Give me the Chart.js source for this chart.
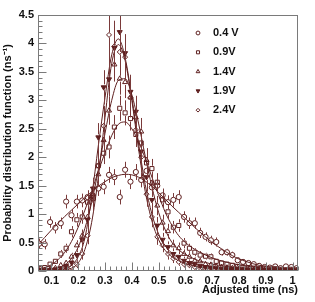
<!DOCTYPE html>
<html>
<head>
<meta charset="utf-8">
<script src="https://cdn.jsdelivr.net/npm/chart.js@4.4.0/dist/chart.umd.min.js"></script>
<style>
html, body { margin: 0; padding: 0; background: #fff; }
</style>
</head>
<body>
<canvas id="chart" width="315" height="302"></canvas>
<script>
// bin centres (ns)
var times = [0.055,0.075,0.095,0.115,0.135,0.155,0.175,0.195,0.215,0.235,0.255,0.275,0.295,0.315,0.335,0.355,0.375,0.395,0.415,0.435,0.455,0.475,0.495,0.515,0.535,0.555,0.575,0.595,0.615,0.635,0.655,0.675,0.695,0.715,0.735,0.755,0.775,0.795,0.815,0.835,0.855,0.875,0.895,0.915,0.935,0.955,0.975,0.995,1.015];

var seriesNames = ['0.4 V', '0.9V', '1.4V', '1.9V', '2.4V'];

var v04 = [0.48,0.47,0.86,0.76,0.84,1.22,0.98,1.22,1.24,1.30,1.28,1.45,1.48,1.69,1.65,1.30,1.78,1.57,1.74,1.60,1.76,1.47,1.50,1.33,1.21,1.25,1.30,0.95,0.84,0.84,0.67,0.60,0.54,0.51,0.33,0.33,0.28,0.19,0.16,0.14,0.12,0.09,0.07,0.06,0.08,0.05,0.08,0.07,0.05];
var v09 = [0.04,0.06,0.12,0.17,0.30,0.40,0.69,0.90,0.95,1.21,1.32,1.85,2.07,2.18,2.53,2.86,2.78,2.68,2.40,2.25,1.90,1.80,1.56,1.25,1.04,0.77,0.80,0.49,0.40,0.33,0.28,0.26,0.25,0.17,0.14,0.12,0.10,0.08,0.07,0.06,0.05,0.04,0.05,0.03,0.04,0.03,0.02,0.03,0.02];
var v14 = [0.01,0.02,0.03,0.05,0.10,0.14,0.25,0.45,0.62,0.95,1.35,1.70,2.30,2.82,3.63,3.38,3.32,3.05,2.70,2.45,1.95,1.55,1.15,0.85,0.70,0.45,0.40,0.30,0.25,0.18,0.17,0.12,0.11,0.08,0.07,0.06,0.05,0.05,0.03,0.03,0.02,0.03,0.02,0.01,0.02,0.01,0.01,0.01,0.01];
var v19 = [0.02,0.01,0.02,0.03,0.04,0.07,0.15,0.28,0.55,0.90,1.45,2.35,3.23,3.37,3.92,4.20,3.83,3.15,2.80,2.10,1.65,1.25,0.80,0.55,0.42,0.30,0.25,0.18,0.14,0.12,0.09,0.07,0.06,0.05,0.04,0.04,0.03,0.03,0.02,0.02,0.02,0.01,0.02,0.01,0.01,0.01,0.02,0.01,0.01];
var v24 = [0.00,0.01,0.01,0.01,0.02,0.03,0.06,0.12,0.30,0.62,1.25,1.85,2.55,4.15,3.95,3.85,3.76,3.05,2.48,2.00,1.35,0.95,0.60,0.45,0.30,0.22,0.16,0.12,0.10,0.07,0.05,0.04,0.04,0.03,0.03,0.02,0.02,0.02,0.01,0.02,0.01,0.01,0.01,0.01,0.01,0.00,0.01,0.01,0.00];

// statistical errors
var e04 = [0.09,0.09,0.10,0.10,0.10,0.12,0.11,0.12,0.12,0.12,0.12,0.13,0.13,0.14,0.14,0.13,0.14,0.13,0.14,0.13,0.14,0.13,0.13,0.12,0.12,0.12,0.12,0.10,0.10,0.10,0.09,0.08,0.08,0.08,0.06,0.06,0.06,0.05,0.04,0.04,0.04,0.03,0.03,0.03,0.03,0.03,0.03,0.03,0.03];
var e09 = [0.03,0.03,0.04,0.05,0.07,0.08,0.10,0.12,0.12,0.14,0.15,0.18,0.19,0.20,0.21,0.22,0.22,0.21,0.20,0.19,0.18,0.17,0.16,0.14,0.13,0.11,0.11,0.09,0.08,0.07,0.07,0.06,0.06,0.05,0.05,0.04,0.04,0.04,0.03,0.03,0.03,0.03,0.03,0.02,0.02,0.02,0.02,0.02,0.02];
var e14 = [0.02,0.02,0.03,0.03,0.04,0.05,0.07,0.09,0.11,0.14,0.17,0.19,0.22,0.25,0.30,0.28,0.28,0.26,0.25,0.24,0.21,0.19,0.17,0.14,0.13,0.10,0.10,0.08,0.07,0.06,0.06,0.05,0.05,0.04,0.04,0.04,0.03,0.03,0.03,0.03,0.02,0.02,0.02,0.02,0.02,0.02,0.02,0.02,0.02];
var e19 = [0.02,0.02,0.02,0.03,0.03,0.04,0.06,0.08,0.11,0.14,0.19,0.25,0.30,0.30,0.33,0.35,0.33,0.30,0.28,0.25,0.22,0.19,0.15,0.12,0.10,0.08,0.08,0.07,0.06,0.05,0.05,0.04,0.04,0.04,0.03,0.03,0.03,0.03,0.02,0.02,0.02,0.02,0.02,0.02,0.02,0.02,0.02,0.02,0.02];
var e24 = [0.01,0.02,0.02,0.02,0.03,0.03,0.05,0.07,0.10,0.15,0.22,0.28,0.35,0.50,0.45,0.40,0.40,0.35,0.30,0.27,0.22,0.18,0.14,0.12,0.10,0.08,0.07,0.06,0.05,0.05,0.04,0.04,0.04,0.03,0.03,0.03,0.03,0.02,0.02,0.02,0.02,0.02,0.02,0.02,0.02,0.01,0.02,0.02,0.01];

// fitted curves, read at these times
var fitTimes = [0.05,0.075,0.1,0.125,0.15,0.175,0.2,0.225,0.25,0.275,0.3,0.325,0.35,0.375,0.4,0.425,0.45,0.475,0.5,0.525,0.55,0.575,0.6,0.625,0.65,0.675,0.7,0.725,0.75,0.775,0.8,0.825,0.85,0.875,0.9,0.925,0.95,0.975,1.0,1.02];
var fit04 = [0.46,0.59,0.72,0.84,0.96,1.07,1.18,1.29,1.39,1.49,1.57,1.64,1.68,1.70,1.69,1.65,1.58,1.49,1.38,1.26,1.14,1.03,0.92,0.81,0.70,0.60,0.50,0.42,0.34,0.27,0.21,0.17,0.13,0.10,0.08,0.07,0.05,0.04,0.04,0.03];
var fit09 = [0.03,0.06,0.11,0.20,0.33,0.52,0.77,1.07,1.40,1.75,2.08,2.38,2.58,2.62,2.50,2.28,1.98,1.65,1.33,1.03,0.80,0.62,0.50,0.41,0.34,0.28,0.23,0.19,0.16,0.13,0.11,0.09,0.07,0.06,0.05,0.04,0.03,0.03,0.02,0.02];
var fit14 = [0.01,0.02,0.03,0.06,0.11,0.22,0.42,0.75,1.20,1.78,2.42,3.00,3.35,3.38,3.10,2.60,2.02,1.48,1.03,0.72,0.50,0.37,0.29,0.23,0.18,0.15,0.12,0.10,0.08,0.07,0.06,0.05,0.04,0.03,0.03,0.02,0.02,0.02,0.01,0.01];
var fit19 = [0.00,0.00,0.01,0.02,0.04,0.10,0.25,0.58,1.30,2.20,3.05,3.80,4.08,3.75,3.05,2.25,1.52,1.00,0.65,0.44,0.31,0.23,0.17,0.13,0.10,0.08,0.06,0.05,0.04,0.04,0.03,0.03,0.02,0.02,0.02,0.01,0.01,0.01,0.01,0.01];
var fit24 = [0.00,0.00,0.00,0.01,0.02,0.05,0.14,0.38,0.85,1.65,2.70,3.65,3.98,3.70,3.00,2.15,1.40,0.88,0.55,0.36,0.25,0.18,0.13,0.10,0.07,0.06,0.05,0.04,0.03,0.03,0.02,0.02,0.02,0.01,0.01,0.01,0.01,0.01,0.01,0.01];

var xTickValues = [0.1,0.2,0.3,0.4,0.5,0.6,0.7,0.8,0.9,1.0];
var xTickLabels = ['0.1','0.2','0.3','0.4','0.5','0.6','0.7','0.8','0.9','1'];
var yTickValues = [0,0.5,1,1.5,2,2.5,3,3.5,4,4.5];
var yTickLabels = ['0','0.5','1','1.5','2','2.5','3','3.5','4','4.5'];

var col = '#5e1f1f';
var font = '"Liberation Sans", Arial, sans-serif';

var points = [v04, v09, v14, v19, v24];
var errors = [e04, e09, e14, e19, e24];
var fits = [fit04, fit09, fit14, fit19, fit24];
var markers = [
	{ style: 'circle', radius: 2.6, rot: 0, fill: false },
	{ style: 'rect', radius: 2.9, rot: 0, fill: false },
	{ style: 'triangle', radius: 2.9, rot: 0, fill: false },
	{ style: 'triangle', radius: 2.9, rot: 180, fill: true },
	{ style: 'rectRot', radius: 2.5, rot: 0, fill: false }
];

function xy(xs, ys) {
	return xs.map(function(x, i) { return { x: x, y: ys[i] }; });
}

var datasets = [];
fits.forEach(function(f) {
	datasets.push({
		data: xy(fitTimes, f),
		showLine: true,
		borderColor: col,
		borderWidth: 1,
		pointRadius: 0,
		cubicInterpolationMode: 'monotone',
		fill: false
	});
});
points.forEach(function(p, i) {
	var m = markers[i];
	datasets.push({
		label: seriesNames[i],
		data: xy(times, p),
		errors: errors[i],
		markerRadius: m.radius,
		showLine: false,
		pointStyle: m.style,
		pointRotation: m.rot,
		pointRadius: m.radius,
		pointBorderWidth: 1,
		pointBorderColor: col,
		pointBackgroundColor: m.fill ? col : 'rgba(0,0,0,0)'
	});
});

// error bars, with a gap where the marker sits
var errorBars = {
	id: 'errorBars',
	afterDatasetsDraw: function(chart) {
		var ctx = chart.ctx, a = chart.chartArea;
		var xs = chart.scales.x, ys = chart.scales.y;
		ctx.save();
		ctx.beginPath();
		ctx.rect(a.left, a.top, a.right - a.left, a.bottom - a.top);
		ctx.clip();
		ctx.strokeStyle = '#7a3a3a';
		ctx.lineWidth = 1;
		chart.data.datasets.forEach(function(ds) {
			if (!ds.errors) return;
			var r = ds.markerRadius;
			ds.data.forEach(function(p, i) {
				var e = ds.errors[i];
				var px = Math.round(xs.getPixelForValue(p.x)) + 0.5;
				var py = ys.getPixelForValue(p.y);
				var top = ys.getPixelForValue(p.y + e);
				var bot = ys.getPixelForValue(Math.max(0, p.y - e));
				ctx.beginPath();
				if (top < py - r) { ctx.moveTo(px, top); ctx.lineTo(px, py - r); }
				if (bot > py + r) { ctx.moveTo(px, py + r); ctx.lineTo(px, bot); }
				ctx.stroke();
			});
		});
		ctx.restore();
	}
};

// ROOT style frame with inward ticks, plus the marker legend
var frame = {
	id: 'frame',
	afterDraw: function(chart) {
		var ctx = chart.ctx, a = chart.chartArea;
		var xs = chart.scales.x, ys = chart.scales.y;
		var L = Math.round(a.left) + 0.5, R = Math.round(a.right) - 0.5;
		var T = Math.round(a.top) + 0.5, B = Math.round(a.bottom) - 0.5;
		ctx.save();
		ctx.strokeStyle = '#7a7a7a';
		ctx.lineWidth = 1;
		ctx.strokeRect(L, T, R - L, B - T);
		ctx.beginPath();
		for (var k = 3; k <= 51; k++) {
			var px = Math.round(xs.getPixelForValue(k * 0.02)) + 0.5;
			var len = (k % 5 === 0) ? 8 : 4;
			ctx.moveTo(px, B); ctx.lineTo(px, B - len);
		}
		for (var j = 0; j <= 45; j++) {
			var py = Math.round(ys.getPixelForValue(j * 0.1)) + 0.5;
			var len2 = (j % 5 === 0) ? 8 : 4;
			ctx.moveTo(L, py); ctx.lineTo(L + len2, py);
		}
		ctx.stroke();

		// legend
		ctx.font = 'bold 11px ' + font;
		ctx.textBaseline = 'middle';
		ctx.textAlign = 'left';
		seriesNames.forEach(function(name, i) {
			var m = markers[i];
			var y = 33 + i * 19.3;
			ctx.strokeStyle = col;
			ctx.fillStyle = m.fill ? col : 'rgba(0,0,0,0)';
			ctx.lineWidth = 1;
			Chart.helpers.drawPoint(ctx, { pointStyle: m.style, radius: m.radius * 0.75, rotation: m.rot, borderWidth: 1 }, 198, y);
			ctx.fillStyle = '#111';
			ctx.fillText(name, 213, y);
		});
		ctx.restore();
	}
};

new Chart(document.getElementById('chart').getContext('2d'), {
	type: 'scatter',
	data: { datasets: datasets },
	options: {
		responsive: false,
		animation: false,
		layout: { padding: { top: 15, right: 17, left: 0, bottom: 0 } },
		plugins: { legend: { display: false }, tooltip: { enabled: false } },
		scales: {
			x: {
				type: 'linear',
				min: 0.05,
				max: 1.02,
				afterBuildTicks: function(s) { s.ticks = xTickValues.map(function(v) { return { value: v }; }); },
				afterFit: function(s) { s.height = 31; },
				grid: { display: false, drawTicks: false },
				border: { display: false },
				ticks: {
					autoSkip: false,
					maxRotation: 0,
					padding: 3,
					color: '#111',
					font: { family: font, size: 11, weight: 'bold' },
					callback: function(v, i) { return xTickLabels[i]; }
				},
				title: {
					display: true,
					text: 'Adjusted time (ns)',
					align: 'end',
					color: '#111',
					padding: { top: 0, bottom: 5 },
					font: { family: font, size: 11, weight: 'bold' }
				}
			},
			y: {
				type: 'linear',
				min: 0,
				max: 4.5,
				afterBuildTicks: function(s) { s.ticks = yTickValues.map(function(v) { return { value: v }; }); },
				afterFit: function(s) { s.width = 38; },
				grid: { display: false, drawTicks: false },
				border: { display: false },
				ticks: {
					autoSkip: false,
					padding: 4,
					color: '#111',
					font: { family: font, size: 11, weight: 'bold' },
					callback: function(v, i) { return yTickLabels[i]; }
				},
				title: {
					display: true,
					text: 'Probability distribution function (ns\u207B\u00B9)',
					color: '#111',
					padding: { top: 1, bottom: 0 },
					font: { family: font, size: 11, weight: 'bold' }
				}
			}
		}
	},
	plugins: [errorBars, frame]
});
</script>
</body>
</html>
